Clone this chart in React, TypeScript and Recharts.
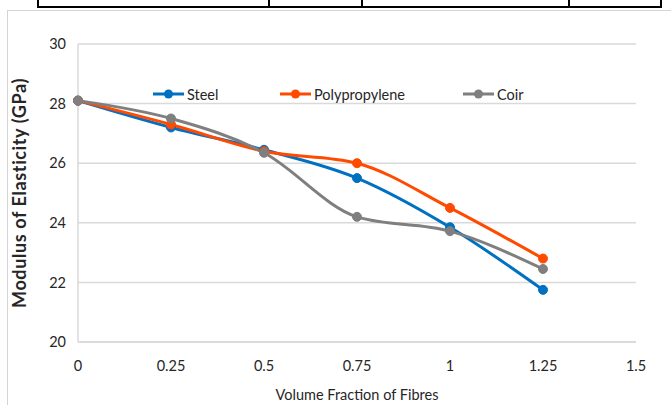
import React from 'react';
import { LineChart, Line, XAxis, YAxis, CartesianGrid } from 'recharts';

const fractions = [0, 0.25, 0.5, 0.75, 1, 1.25];
const steel = [28.1, 27.2, 26.45, 25.5, 23.85, 21.75];
const polypropylene = [28.1, 27.3, 26.4, 26.0, 24.5, 22.8];
const coir = [28.1, 27.5, 26.35, 24.2, 23.72, 22.45];
const xTicks = [0, 0.25, 0.5, 0.75, 1, 1.25, 1.5];
const yTicks = [20, 22, 24, 26, 28, 30];

const series = [
  { key: 'steel', name: 'Steel', color: '#0070C0' },
  { key: 'polypropylene', name: 'Polypropylene', color: '#FF4A00' },
  { key: 'coir', name: 'Coir', color: '#7F7F7F' },
];

const data = fractions.map((f, i) => ({
  fraction: f,
  steel: steel[i],
  polypropylene: polypropylene[i],
  coir: coir[i],
}));

const FONT = "Lato, 'Open Sans', sans-serif";

// legend item x positions (line start) inside the plot, as in the source figure
const legendX = [153, 280, 463];

const ChartLegend = () => (
  <div style={{ position: 'absolute', left: 0, top: 85, width: 671, height: 20 }}>
    {series.map((s, i) => (
      <div
        key={s.key}
        style={{
          position: 'absolute',
          left: legendX[i],
          top: 0,
          height: 18,
          display: 'flex',
          alignItems: 'center',
          fontFamily: FONT,
          fontSize: 14.5,
          color: '#262626',
        }}
      >
        <svg width={31} height={12}>
          <line x1={0} y1={6} x2={31} y2={6} stroke={s.color} strokeWidth={3} />
          <circle cx={15.5} cy={6} r={4.5} fill={s.color} />
        </svg>
        <span style={{ marginLeft: 3 }}>{s.name}</span>
      </div>
    ))}
  </div>
);

const tableLines = [37, 268, 361, 568, 660];

export default function App() {
  return (
    <div style={{ position: 'absolute', left: 0, top: 0, width: 671, height: 405, background: '#fff', overflow: 'hidden' }}>
      {/* fragment of the table above the figure */}
      <div style={{ position: 'absolute', left: 37, top: 6, width: 625, height: 2, background: '#000' }} />
      {tableLines.map((x) => (
        <div key={x} style={{ position: 'absolute', left: x, top: 0, width: 2, height: 8, background: '#000' }} />
      ))}
      {/* chart frame */}
      <div style={{ position: 'absolute', left: 7, top: 10, width: 700, height: 420, border: '1.5px solid #d4d4d4' }} />
      <div style={{ position: 'absolute', left: 0, top: 0 }}>
        <LineChart width={671} height={405} data={data} margin={{ top: 44, right: 35, bottom: 2, left: 38 }}>
          <CartesianGrid vertical={false} stroke="#d9d9d9" strokeWidth={1.5} />
          <XAxis
            dataKey="fraction"
            type="number"
            domain={[0, 1.5]}
            ticks={xTicks}
            height={61}
            tickLine={false}
            axisLine={{ stroke: '#d9d9d9', strokeWidth: 1.5 }}
            tickMargin={13}
            tick={{ fill: '#262626', fontSize: 14.5, fontFamily: FONT }}
            label={{ value: 'Volume Fraction of Fibres', position: 'insideBottom', offset: 3, fill: '#262626', fontSize: 14.5, fontFamily: FONT }}
          />
          <YAxis
            type="number"
            domain={[20, 30]}
            ticks={yTicks}
            width={40}
            tickLine={false}
            axisLine={{ stroke: '#d9d9d9', strokeWidth: 1.5 }}
            tickMargin={6}
            tick={{ fill: '#262626', fontSize: 14.5, fontFamily: FONT }}
            label={{ value: 'Modulus of Elasticity (GPa)', angle: -90, position: 'center', dx: -38, fill: '#262626', fontSize: 18, fontWeight: 'bold', letterSpacing: 0.6, fontFamily: FONT }}
          />
          {series.map((s) => (
            <Line
              key={s.key}
              type="monotone"
              dataKey={s.key}
              name={s.name}
              stroke={s.color}
              strokeWidth={3}
              dot={{ r: 4.5, fill: s.color, stroke: s.color, strokeWidth: 1 }}
              isAnimationActive={false}
            />
          ))}
        </LineChart>
      </div>
      <ChartLegend />
    </div>
  );
}
